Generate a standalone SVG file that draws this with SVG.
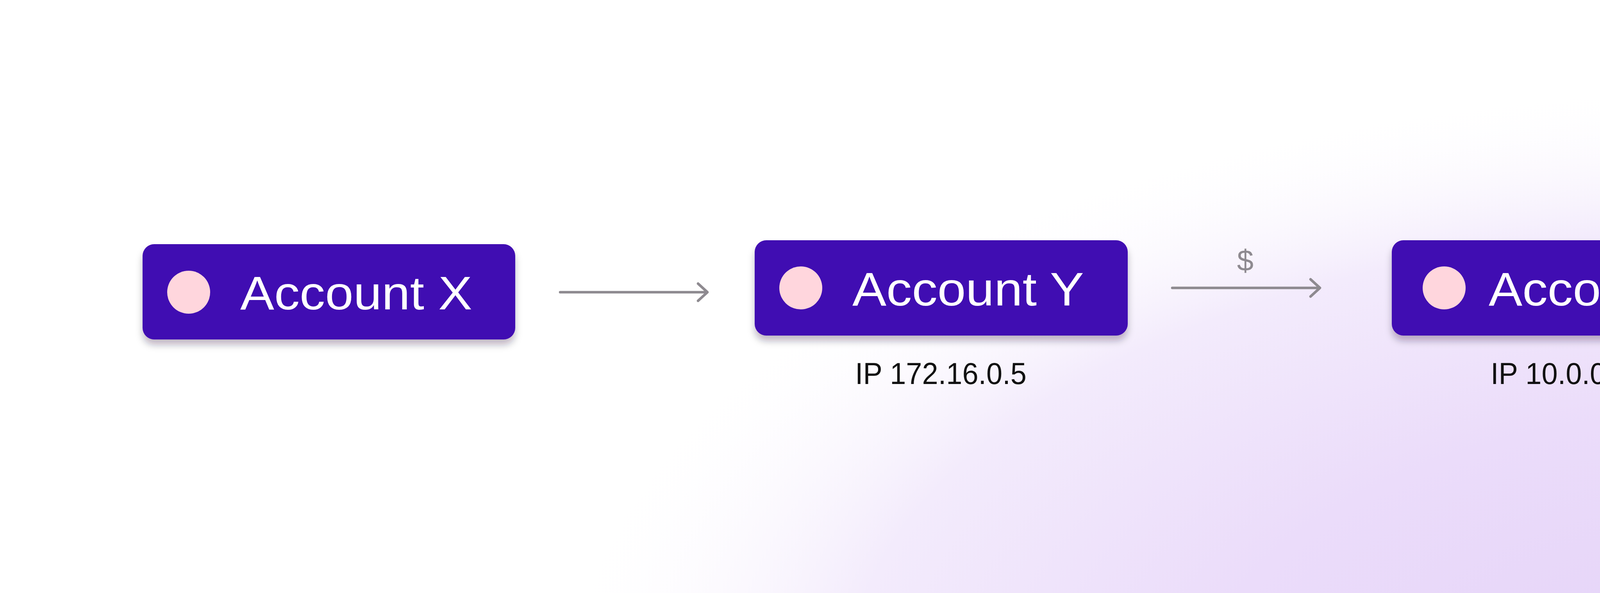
<svg xmlns="http://www.w3.org/2000/svg" width="6591" height="1518" viewBox="0 0 6591 1518">
  <defs>
    <radialGradient id="bgLav" gradientUnits="userSpaceOnUse" cx="4500" cy="1750" r="3100" gradientTransform="translate(4500 1750) scale(1 0.5) translate(-4500 -1750)">
      <stop offset="0" stop-color="#e4d2f8"/>
      <stop offset="0.45" stop-color="#ebdcfa"/>
      <stop offset="0.75" stop-color="#f3ebfc"/>
      <stop offset="1" stop-color="#ffffff" stop-opacity="0"/>
    </radialGradient>
    <radialGradient id="bgDark" gradientUnits="userSpaceOnUse" cx="5750" cy="1500" r="1100" gradientTransform="translate(5750 1500) scale(1 0.55) translate(-5750 -1500)">
      <stop offset="0" stop-color="#d3bfee"/>
      <stop offset="0.5" stop-color="#d9c8f1" stop-opacity="0.7"/>
      <stop offset="1" stop-color="#e4d4f6" stop-opacity="0"/>
    </radialGradient>
    <radialGradient id="bgBlue" gradientUnits="userSpaceOnUse" cx="6700" cy="1400" r="500" gradientTransform="translate(6700 1400) scale(0.6 1.2) translate(-6700 -1400)">
      <stop offset="0" stop-color="#e6ebf8"/>
      <stop offset="0.6" stop-color="#eaedf9" stop-opacity="0.8"/>
      <stop offset="1" stop-color="#f0f0fb" stop-opacity="0"/>
    </radialGradient>
    <filter id="shadow" x="-10%" y="-20%" width="120%" height="160%">
      <feDropShadow dx="0" dy="14" stdDeviation="9" flood-color="#1a1030" flood-opacity="0.28"/>
    </filter>
  </defs>
  <style>
    .box { fill: #4007b2; filter: url(#shadow); }
    .dot { fill: #ffd6dd; }
    .dot.alert { fill: #ff1f35; }
    .label { font-family: "Liberation Sans", Arial, sans-serif; font-size: 120px; fill: #ffffff; }
    .ip { font-family: "Liberation Sans", Arial, sans-serif; font-size: 77px; fill: #111111; }
    .money { font-family: "Liberation Sans", Arial, sans-serif; font-size: 76px; fill: #8e8a90; text-anchor: middle; }
    .edge { stroke: #8e8a90; stroke-width: 6.5; fill: none; stroke-linecap: round; stroke-linejoin: round; }
  </style>

  <g id="background">
    <rect x="0" y="0" width="6591" height="1518" fill="#ffffff"/>
    <rect x="0" y="0" width="6591" height="1518" fill="url(#bgLav)"/>
    <rect x="0" y="0" width="6591" height="1518" fill="url(#bgDark)"/>
    <rect x="0" y="0" width="6591" height="1518" fill="url(#bgBlue)"/>
  </g>

  <g id="connectors">
    <g id="edge-x-y">
      <line class="edge" x1="1434" y1="748" x2="1810" y2="748"/>
      <polyline class="edge" points="1787,726 1811,748 1787,770"/>
    </g>
    <g id="edge-y-z">
      <line class="edge" x1="3001" y1="737" x2="3378" y2="737"/>
      <polyline class="edge" points="3355,715 3379,737 3355,759"/>
      <text class="money" x="3188" y="693">$</text>
    </g>
    <g id="edge-z-a">
      <line class="edge" x1="4709" y1="737" x2="5086" y2="737"/>
      <polyline class="edge" points="5063,715 5087,737 5063,759"/>
      <text class="money" x="4901" y="693">$</text>
    </g>
  </g>

  <g id="node-x">
    <rect class="box" x="365" y="625" width="954" height="244" rx="30" ry="30"/>
    <circle class="dot" cx="483" cy="748" r="55"/>
    <text class="label" x="615" y="792" textLength="594" lengthAdjust="spacingAndGlyphs">Account X</text>
  </g>

  <g id="node-y">
    <rect class="box" x="1932" y="615" width="955" height="244" rx="30" ry="30"/>
    <circle class="dot" cx="2050" cy="737" r="55"/>
    <text class="label" x="2182" y="782" textLength="593" lengthAdjust="spacingAndGlyphs">Account Y</text>
    <text class="ip" x="2189" y="983" textLength="439" lengthAdjust="spacingAndGlyphs">IP 172.16.0.5</text>
  </g>

  <g id="node-z">
    <rect class="box" x="3563" y="615" width="950" height="244" rx="30" ry="30"/>
    <circle class="dot" cx="3697" cy="737" r="55"/>
    <text class="label" x="3811" y="782" textLength="582" lengthAdjust="spacingAndGlyphs">Account Z</text>
    <text class="ip" x="3816" y="983" textLength="357" lengthAdjust="spacingAndGlyphs">IP 10.0.0.1</text>
  </g>

  <g id="node-a">
    <rect class="box" x="5272" y="615" width="950" height="244" rx="30" ry="30"/>
    <circle class="dot alert" cx="5407" cy="737" r="55"/>
    <text class="label" x="5519" y="782" textLength="598" lengthAdjust="spacingAndGlyphs">Account A</text>
  </g>
</svg>
